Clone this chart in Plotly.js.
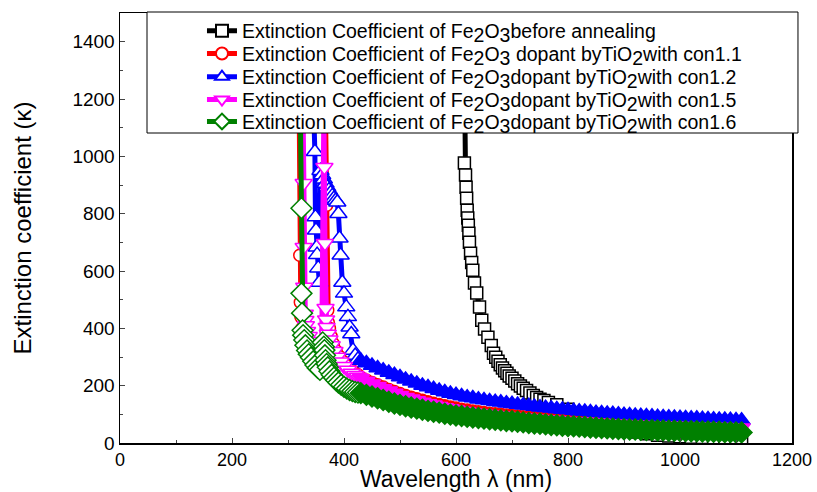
<!DOCTYPE html>
<html><head><meta charset="utf-8">
<script src="https://cdn.plot.ly/plotly-3.0.1.min.js"></script>
<style>html,body{margin:0;padding:0;background:#fff}#chart{width:817px;height:492px}</style>
</head><body><div id="chart"></div>
<script>
// ---- data (wavelength in nm, extinction coefficient) ----
const blackWl = [613,615,617,618,619,620,621,622,623,624,626,628,630,633,637,642,646,651,657,663,667,671,675,679,683,687,691,695,700,705,710,715,720,726,732,738,744,750,757,765,780,800,820,840,860,880,900,920,940,960,980,1000,1020,1040,1060,1080,1100,1110];
const blackK  = [1700,977,935,892,854,812,785,760,732,700,662,630,603,558,523,474,428,398,369,340,313,299,285,273,262,252,243,234,226,216,207,199,191,183,174,166,159,153,148,141,133,118,100,85,72,61,51,38,32,27,24,22,20,19,18,17,16,15,14];

const redHeadWl = [320,321,322,323,325,328,332,337,343,349,355,361,367,369,371,372,374,377,381,386,392,398,405,412,418,425];
const redHeadK  = [1150,655,491,440,400,370,345,325,310,298,288,280,1150,829,463,420,400,372,346,322,302,285,270,258,248,238];

const blueHeadWl = [346,348,349,350,351,352,354,356,358,361,364,367,370,373,376,379,382,385,388,390,392,394,397,400,404,407,410,413,416,420,425];
const blueHeadK  = [1150,1016,788,742,683,657,610,560,950,935,920,905,893,882,872,862,853,846,840,800,714,655,560,522,474,440,404,380,323,305,292];

const magHeadWl = [327,328,328,329,330,331,332,334,337,341,345,350,355,360,364,365,366,367,368,369,371,374,378,383,388,394,400,407,414,420,425];
const magHeadK  = [1150,906,683,544,450,428,410,390,372,355,340,325,308,295,1150,962,697,470,430,404,380,360,340,320,300,283,268,255,244,236,230];

const greenHeadWl = [322,324,324,325,326,327,329,331,334,337,341,345,349,353,357,362,364,365,366,367,369,371,374,378,382,386,390,395,400,405,410,415,420,425];
const greenHeadK  = [1150,819,522,453,393,376,359,341,323,310,298,285,272,262,255,351,336,324,306,289,276,264,250,238,228,219,211,203,196,190,185,181,178,176];

const tailWl = [430,440,450,460,470,480,490,500,510,520,530,540,550,560,570,580,590,600,610,620,630,640,650,660,670,680,690,700,710,720,730,740,750,760,770,780,790,800,810,820,830,840,850,860,870,880,890,900,910,920,930,940,950,960,970,980,990,1000,1010,1020,1030,1040,1050,1060,1070,1080,1090,1100,1110];
const redTailK   = [229,220,211,203,195,187,180,173,166,160,154,149,144,139,134,130,126,122,118,115,112,109,106,104,102,100,98,96,94,92,90,89,87,86,84,83,81,80,79,78,76,75,74,73,71,70,69,68,67,67,66,65,64,64,63,62,62,61,61,60,60,59,59,58,58,58,57,57,56];
const blueTailK  = [288,279,270,262,254,246,238,230,222,215,208,201,195,189,183,178,173,168,164,160,157,153,150,147,144,142,139,137,134,132,130,127,125,123,121,119,117,115,113,111,110,108,106,105,103,102,100,99,98,96,95,94,93,92,91,90,89,88,87,86,86,85,84,83,82,82,81,80,79];
const magTailK   = [225,216,207,198,190,182,174,167,160,154,148,143,138,133,128,124,120,116,112,109,106,103,101,99,97,95,93,91,89,88,86,85,83,82,80,79,77,76,75,74,73,72,71,70,68,67,66,65,64,64,63,62,61,61,60,59,59,58,58,57,57,56,56,55,55,55,54,54,53];
const greenTailK = [174,168,162,156,150,144,138,133,128,124,120,116,112,109,106,102,99,96,94,91,89,87,85,83,81,79,77,76,74,72,70,68,67,65,63,62,60,59,58,57,56,54,53,52,51,50,49,48,47,47,46,45,45,44,44,43,43,42,42,41,41,40,40,39,39,38,38,37,37];

const xTitle = 'Wavelength λ (nm)';
const yTitle = 'Extinction coefficient (κ)';

const LEG_SIZE = 19.5;
const sub = d => '<sub><span style="font-size:' + LEG_SIZE + 'px">' + d + '</span></sub>';
const seriesNames = [
  'Extinction Coefficient of Fe' + sub(2) + 'O' + sub(3) + 'before annealing',
  'Extinction Coefficient of Fe' + sub(2) + 'O' + sub(3) + ' dopant byTiO' + sub(2) + 'with con1.1',
  'Extinction Coefficient of Fe' + sub(2) + 'O' + sub(3) + 'dopant byTiO' + sub(2) + 'with con1.2',
  'Extinction Coefficient of Fe' + sub(2) + 'O' + sub(3) + 'dopant byTiO' + sub(2) + 'with con1.5',
  'Extinction Coefficient of Fe' + sub(2) + 'O' + sub(3) + 'dopant byTiO' + sub(2) + 'with con1.6'
];

// ---- traces ----
function mk(name, hx, hy, tx, ty, color, symbol, size, leg) {
  const fill = hx.map(() => '#ffffff').concat(tx.map(() => color));
  return {
    type: 'scatter', mode: 'lines+markers', name: name, legend: leg,
    x: hx.concat(tx), y: hy.concat(ty),
    line: {color: color, width: 5},
    marker: {symbol: symbol, size: size, color: fill, line: {color: color, width: 1.5}}
  };
}
const traces = [
  mk(seriesNames[0], blackWl, blackK, [], [], '#000000', 'square', 12, 'legend'),
  mk(seriesNames[1], redHeadWl, redHeadK, tailWl, redTailK, '#ff0000', 'circle', 12, 'legend2'),
  mk(seriesNames[2], blueHeadWl, blueHeadK, tailWl, blueTailK, '#0000ff', 'triangle-up', 15, 'legend3'),
  mk(seriesNames[3], magHeadWl, magHeadK, tailWl, magTailK, '#ff00ff', 'triangle-down', 15, 'legend4'),
  mk(seriesNames[4], greenHeadWl, greenHeadK, tailWl, greenTailK, '#008000', 'diamond', 16, 'legend5')
];

const fontFam = 'Liberation Sans, Arial, sans-serif';
function legendAt(y) {
  return {
    x: 0.122, y: y, xanchor: 'left', yanchor: 'middle',
    bgcolor: 'rgba(0,0,0,0)', borderwidth: 0,
    font: {family: fontFam, size: LEG_SIZE, color: '#000'},
    itemwidth: 30, itemsizing: 'constant'
  };
}
const layout = {
  width: 817, height: 492,
  margin: {l: 120, r: 25, t: 13, b: 49},
  paper_bgcolor: '#ffffff', plot_bgcolor: '#ffffff',
  showlegend: true,
  xaxis: {
    range: [0, 1200], tick0: 0, dtick: 200, ticks: 'inside', ticklen: 5, tickwidth: 1,
    minor: {dtick: 100, ticks: 'inside', ticklen: 3},
    showline: true, linecolor: '#000', linewidth: 1.5, mirror: true,
    showgrid: false, zeroline: false,
    tickfont: {family: fontFam, size: 18, color: '#000'}
  },
  yaxis: {
    range: [0, 1500], tick0: 0, dtick: 200, ticks: 'inside', ticklen: 5, tickwidth: 1,
    minor: {dtick: 100, ticks: 'inside', ticklen: 3},
    showline: true, linecolor: '#000', linewidth: 1.5, mirror: true,
    showgrid: false, zeroline: false,
    tickfont: {family: fontFam, size: 19, color: '#000'},
    title: {text: yTitle, font: {family: fontFam, size: 24, color: '#000'}, standoff: 34}
  },
  annotations: [{
    text: xTitle, xref: 'paper', yref: 'paper', x: 0.5, y: -0.0837,
    xanchor: 'center', yanchor: 'middle', showarrow: false, borderpad: 0,
    font: {family: fontFam, size: 23, color: '#000'}
  }],
  shapes: [{
    type: 'rect', xref: 'paper', yref: 'paper', layer: 'above',
    x0: 0.0402, x1: 1.0089, y0: 0.7209, y1: 1.0023,
    fillcolor: '#ffffff', line: {color: '#000', width: 1}
  }],
  legend: legendAt(0.958),
  legend2: legendAt(0.905),
  legend3: legendAt(0.851),
  legend4: legendAt(0.798),
  legend5: legendAt(0.747)
};
Plotly.newPlot('chart', traces, layout, {displayModeBar: false, staticPlot: true});
</script></body></html>
